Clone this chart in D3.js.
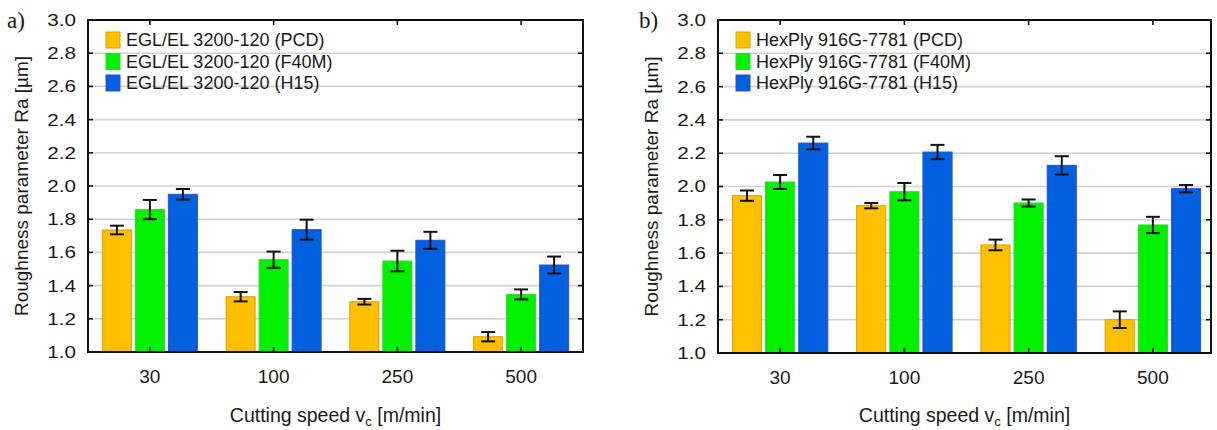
<!DOCTYPE html>
<html>
<head>
<meta charset="utf-8">
<script src="https://cdn.jsdelivr.net/npm/d3@7"></script>
<style>
  body { margin: 0; background: #fff; }
  svg { display: block; }
  text { font-family: "Liberation Sans", Arial, sans-serif; fill: #1a1a1a; }
</style>
</head>
<body>
<svg id="chart" width="1217" height="430"></svg>
<script>
// ---- data ----
const categories = ["30", "100", "250", "500"];
const yTicks = [1.0, 1.2, 1.4, 1.6, 1.8, 2.0, 2.2, 2.4, 2.6, 2.8, 3.0];
const toolNames = ["PCD", "F40M", "H15"];

const labelsA = ["EGL/EL 3200-120 (PCD)", "EGL/EL 3200-120 (F40M)", "EGL/EL 3200-120 (H15)"];
const pcdA  = [1.735, 1.333, 1.303, 1.092];
const f40mA = [1.858, 1.556, 1.548, 1.347];
const h15A  = [1.950, 1.737, 1.673, 1.524];
const pcdErrA  = [0.026, 0.028, 0.017, 0.028];
const f40mErrA = [0.058, 0.049, 0.062, 0.030];
const h15ErrA  = [0.032, 0.060, 0.051, 0.051];

const labelsB = ["HexPly 916G-7781 (PCD)", "HexPly 916G-7781 (F40M)", "HexPly 916G-7781 (H15)"];
const pcdB  = [1.945, 1.885, 1.649, 1.200];
const f40mB = [2.027, 1.969, 1.901, 1.769];
const h15B  = [2.261, 2.207, 2.127, 1.987];
const pcdErrB  = [0.031, 0.016, 0.032, 0.050];
const f40mErrB = [0.042, 0.052, 0.021, 0.049];
const h15ErrB  = [0.038, 0.043, 0.055, 0.022];

const fills   = ["#ffc000", "#00f000", "#0060e0"];
const strokes = ["#d9a000", "#33d633", "#2a55c8"];

const svg = d3.select("#chart");

function panel(opt) {
  const { left, right, frameRight, top, bottom, letter, letterX, titleX, legendLabels, values, errors } = opt;
  const g = svg.append("g");
  const y = d3.scaleLinear().domain([1.0, 3.0]).range([bottom, top]);
  const x0 = d3.scaleBand().domain(categories).range([left, right]).paddingInner(0.224).paddingOuter(0.112);
  const x1 = d3.scaleBand().domain(toolNames).range([0, x0.bandwidth()]).paddingInner(0.09).paddingOuter(0);

  // grid
  g.append("g").selectAll("line").data(yTicks.filter(t => t > 1.0 && t < 3.0)).join("line")
    .attr("x1", left).attr("x2", frameRight)
    .attr("y1", d => y(d)).attr("y2", d => y(d))
    .attr("stroke", "#d2d2d2").attr("stroke-width", 1.6);

  // bars
  const rows = categories.map((c, i) => toolNames.map((t, k) => ({ c, t, k, v: values[k][i], e: errors[k][i] })));
  const grp = g.append("g").selectAll("g").data(rows).join("g")
    .attr("transform", (d, i) => `translate(${x0(categories[i])},0)`);
  grp.selectAll("rect").data(d => d).join("rect")
    .attr("x", d => x1(d.t) + 0.5).attr("width", x1.bandwidth() - 1)
    .attr("y", d => y(d.v)).attr("height", d => y(1.0) - y(d.v))
    .attr("fill", d => fills[d.k]).attr("stroke", d => strokes[d.k]).attr("stroke-width", 1);

  // error bars
  const eb = grp.selectAll("g.err").data(d => d).join("g").attr("class", "err")
    .attr("transform", d => `translate(${x1(d.t) + x1.bandwidth() / 2},0)`);
  eb.append("line").attr("x1", 0).attr("x2", 0)
    .attr("y1", d => y(d.v + d.e)).attr("y2", d => y(d.v - d.e))
    .attr("stroke", "#111").attr("stroke-width", 2);
  eb.append("line").attr("x1", -7).attr("x2", 7)
    .attr("y1", d => y(d.v + d.e)).attr("y2", d => y(d.v + d.e))
    .attr("stroke", "#111").attr("stroke-width", 2);
  eb.append("line").attr("x1", -7).attr("x2", 7)
    .attr("y1", d => y(d.v - d.e)).attr("y2", d => y(d.v - d.e))
    .attr("stroke", "#111").attr("stroke-width", 2);

  // frame
  g.append("rect").attr("x", left).attr("y", top).attr("width", frameRight - left).attr("height", bottom - top)
    .attr("fill", "none").attr("stroke", "#111").attr("stroke-width", 2);

  // y ticks (inside, left and right)
  g.append("g").selectAll("line").data(yTicks).join("line")
    .attr("x1", left).attr("x2", left + 5).attr("y1", d => y(d)).attr("y2", d => y(d))
    .attr("stroke", "#111").attr("stroke-width", 1.6);
  g.append("g").selectAll("line").data(yTicks).join("line")
    .attr("x1", frameRight - 5).attr("x2", frameRight).attr("y1", d => y(d)).attr("y2", d => y(d))
    .attr("stroke", "#111").attr("stroke-width", 1.6);
  // x ticks (inside, top and bottom)
  const cx = c => x0(c) + x0.bandwidth() / 2;
  g.append("g").selectAll("line").data(categories).join("line")
    .attr("x1", cx).attr("x2", cx).attr("y1", bottom - 5).attr("y2", bottom)
    .attr("stroke", "#111").attr("stroke-width", 1.6);
  g.append("g").selectAll("line").data(categories).join("line")
    .attr("x1", cx).attr("x2", cx).attr("y1", top).attr("y2", top + 5)
    .attr("stroke", "#111").attr("stroke-width", 1.6);

  // y tick labels (horizontally stretched as in reference)
  g.append("g").selectAll("text").data(yTicks).join("text")
    .attr("transform", d => `translate(${left - 12},${y(d)}) scale(1.25,1)`)
    .attr("text-anchor", "end").attr("dy", "0.36em")
    .style("font-size", "16.5px")
    .text(d => d.toFixed(1));

  // category labels
  g.append("g").selectAll("text").data(categories).join("text")
    .attr("x", cx).attr("y", bottom + 31)
    .attr("text-anchor", "middle").style("font-size", "19px")
    .text(d => d);

  // x title
  const xt = g.append("text").attr("x", (left + frameRight) / 2).attr("y", 422)
    .attr("text-anchor", "middle").style("font-size", "19.5px");
  xt.append("tspan").text("Cutting speed v");
  xt.append("tspan").attr("dy", 4).style("font-size", "13px").text("c");
  xt.append("tspan").attr("dy", -4).text(" [m/min]");

  // y title
  g.append("text").attr("transform", `translate(${titleX},${(top + bottom) / 2}) rotate(-90)`)
    .attr("text-anchor", "middle").attr("dy", "0.35em").style("font-size", "19px")
    .text("Roughness parameter Ra [µm]");

  // panel letter
  g.append("text").attr("x", letterX).attr("y", 28)
    .style("font-family", "'Liberation Serif', 'Times New Roman', serif").style("font-size", "23px")
    .text(letter);

  // legend
  const lg = g.append("g").attr("transform", `translate(${left + 18},0)`);
  const ly = [40, 61.5, 83];
  lg.selectAll("rect").data(legendLabels).join("rect")
    .attr("x", 0).attr("y", (d, i) => ly[i] - 8).attr("width", 14).attr("height", 16)
    .attr("fill", (d, i) => fills[i]).attr("stroke", (d, i) => strokes[i]).attr("stroke-width", 1);
  lg.selectAll("text").data(legendLabels).join("text")
    .attr("x", 20).attr("y", (d, i) => ly[i]).attr("dy", "0.36em")
    .style("font-size", "18px")
    .text(d => d);
}

panel({ left: 88, right: 583, frameRight: 583, top: 20, bottom: 352, letter: "a)", letterX: 7, titleX: 21,
  legendLabels: labelsA, values: [pcdA, f40mA, h15A], errors: [pcdErrA, f40mErrA, h15ErrA] });
panel({ left: 718, right: 1215, frameRight: 1211, top: 20, bottom: 353, letter: "b)", letterX: 639, titleX: 651,
  legendLabels: labelsB, values: [pcdB, f40mB, h15B], errors: [pcdErrB, f40mErrB, h15ErrB] });
</script>
</body>
</html>
